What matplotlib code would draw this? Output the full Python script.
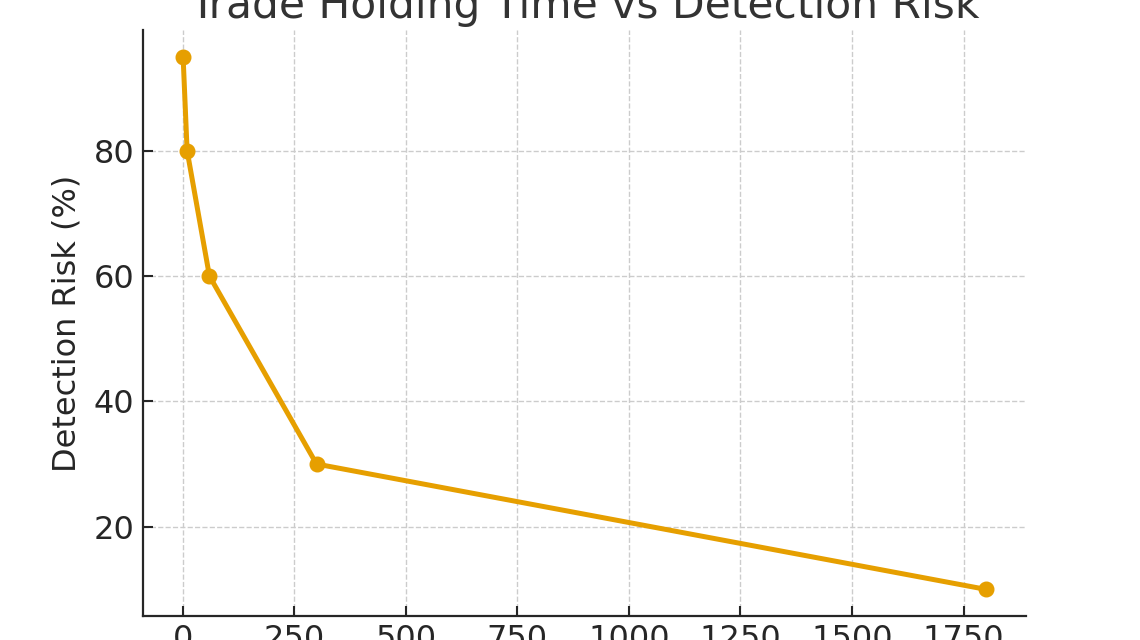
import numpy as np
import matplotlib
matplotlib.use('Agg')
import matplotlib.pyplot as plt

# Holding time (seconds) vs detection risk
holding_time = [1, 10, 60, 300, 1800]
detection_risk = [95, 80, 60, 30, 10]

title = "Trade Holding Time vs Detection Risk"
y_label = "Detection Risk (%)"

fig = plt.figure(figsize=(11.4, 6.4), dpi=100)
ax = fig.add_axes([0.1254, 0.0375, 0.7746, 0.9156])

ax.plot(holding_time, detection_risk, color='#E69F00', linewidth=3.6,
        marker='o', markersize=10.5)

# Set graph stuff
ax.set_title(title, fontsize=30.5, color='#333333', pad=9)
ax.set_ylabel(y_label, fontsize=23, color='#262626', labelpad=8)
ax.tick_params(labelsize=23, colors='#262626', width=1.5, length=7,
               direction='in', pad=6)
ax.set_yticks([20, 40, 60, 80])
ax.grid(True, linestyle='--', color='#cccccc', linewidth=1)
ax.set_axisbelow(True)
for side in ['top', 'right']:
    ax.spines[side].set_visible(False)
for side in ['left', 'bottom']:
    ax.spines[side].set_linewidth(1.6)
    ax.spines[side].set_color('#262626')

plt.savefig('out.png', dpi=100)
